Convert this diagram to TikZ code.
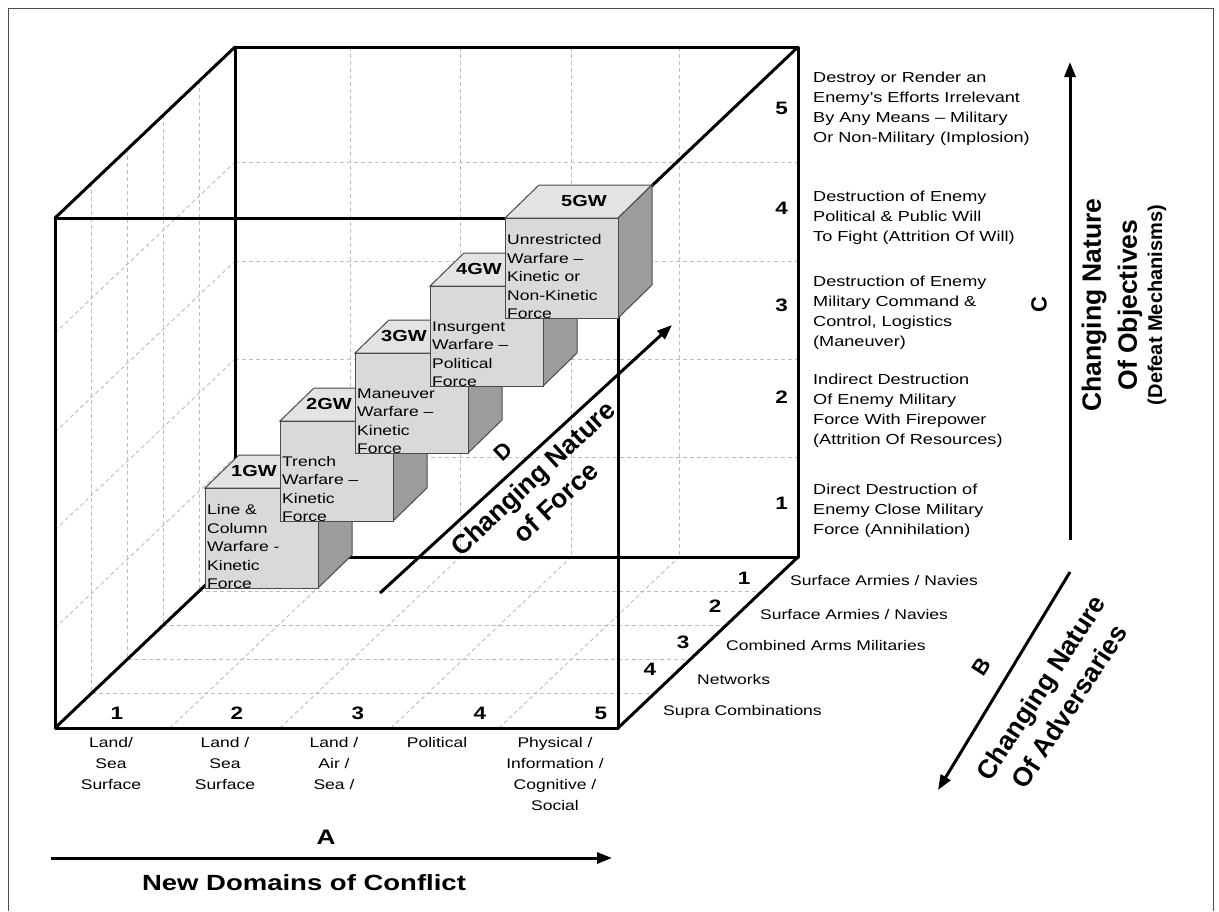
\documentclass[tikz,border=0pt]{standalone}
\usepackage{fontspec}
\setmainfont{Liberation Sans}[FakeStretch=1.25]
\newfontfamily\uprightsf{Liberation Sans}
\usetikzlibrary{arrows.meta}
\definecolor{gridgray}{HTML}{BDBDBD}
\definecolor{facefront}{HTML}{D9D9D9}
\definecolor{facetop}{HTML}{E3E3E3}
\definecolor{faceside}{HTML}{9C9C9C}
\definecolor{boxline}{HTML}{4A4A4A}

\begin{document}
\begin{tikzpicture}[x=1pt, y=-1pt,
  cubeedge/.style={line width=3pt, line cap=round, line join=round},
  dashgrid/.style={gridgray, line width=0.9pt, dash pattern=on 4pt off 3pt},
  frontface/.style={fill=facefront, draw=boxline, line width=1pt},
  topface/.style={fill=facetop, draw=boxline, line width=1pt},
  sideface/.style={fill=faceside, draw=boxline, line width=1pt},
  boxtext/.style={anchor=south west, inner sep=0pt, align=left,
                  font=\fontsize{14}{18.5}\selectfont},
  gwlabel/.style={anchor=east, inner sep=0pt, font=\fontsize{16}{16}\selectfont\bfseries},
  axisnum/.style={inner sep=0pt, font=\fontsize{18}{18}\selectfont\bfseries},
  domainlabel/.style={anchor=north, inner sep=0pt, align=center,
                 font=\fontsize{14}{21}\selectfont},
  objective/.style={anchor=west, inner sep=0pt, align=left,
                    font=\fontsize{14.5}{20}\selectfont},
  adversary/.style={anchor=west, inner sep=0pt, font=\fontsize{14}{14}\selectfont},
  axisletter/.style={inner sep=0pt, font=\uprightsf\fontsize{22}{22}\selectfont\bfseries},
  axistitle/.style={inner sep=0pt, align=center,
                    font=\uprightsf\fontsize{26.5}{34}\selectfont\bfseries},
  axisarrow/.style={line width=3pt, -{Triangle[length=15pt, width=11pt]}},
]
\useasboundingbox (0,0) rectangle (1219,911);
\draw[line width=1pt, black!70] (8,911) -- (8,8) -- (1213,8) -- (1213,911);

\coordinate (ftl) at (55,218);
\coordinate (ftr) at (618,218);
\coordinate (fbr) at (618,728);
\coordinate (fbl) at (55,728);
\coordinate (btl) at (235,47);
\coordinate (btr) at (798,47);
\coordinate (bbr) at (798,557);
\coordinate (bbl) at (235,557);

\draw[dashgrid] (350,47) -- (350,557);
\draw[dashgrid] (460,47) -- (460,557);
\draw[dashgrid] (571,47) -- (571,557);
\draw[dashgrid] (679,47) -- (679,557);
\draw[dashgrid] (235,457) -- (798,457);
\draw[dashgrid] (235,359) -- (798,359);
\draw[dashgrid] (235,261) -- (798,261);
\draw[dashgrid] (235,162) -- (798,162);
\draw[dashgrid] (91.8,183) -- (91.8,693);
\draw[dashgrid] (127.6,149) -- (127.6,659);
\draw[dashgrid] (163.4,115) -- (163.4,625);
\draw[dashgrid] (199.2,81) -- (199.2,591);
\draw[dashgrid] (55,628) -- (235,457);
\draw[dashgrid] (55,530) -- (235,359);
\draw[dashgrid] (55,432) -- (235,261);
\draw[dashgrid] (55,333) -- (235,162);
\draw[dashgrid] (91.8,693) -- (654.8,693);
\draw[dashgrid] (127.6,659) -- (690.6,659);
\draw[dashgrid] (163.4,625) -- (726.4,625);
\draw[dashgrid] (199.2,591) -- (762.2,591);
\draw[dashgrid] (170,728) -- (350,557);
\draw[dashgrid] (280,728) -- (460,557);
\draw[dashgrid] (391,728) -- (571,557);
\draw[dashgrid] (499,728) -- (679,557);

\draw[cubeedge] (btl) -- (btr) -- (bbr) -- (bbl) -- cycle;
\draw[cubeedge] (ftl) -- (btl);
\draw[cubeedge] (ftr) -- (btr);
\draw[cubeedge] (fbr) -- (bbr);
\draw[cubeedge] (fbl) -- (bbl);
\draw[cubeedge] (ftl) -- (ftr) -- (fbr) -- (fbl) -- cycle;

\filldraw[topface] (205,488) -- ++(34,-33) -- ++(113,0) -- ++(-34,33) -- cycle;
\filldraw[sideface] (318,488) -- ++(34,-33) -- ++(0,100) -- ++(-34,33) -- cycle;
\filldraw[frontface] (205,488) rectangle ++(113,100);
\node[boxtext] (gw1txt) at (207,589) {Line \&\\Column\\Warfare -\\Kinetic\\Force};
\node[gwlabel] (gw1) at (277,471) {1GW};

\filldraw[topface] (280,421) -- ++(34,-33) -- ++(113,0) -- ++(-34,33) -- cycle;
\filldraw[sideface] (393,421) -- ++(34,-33) -- ++(0,100) -- ++(-34,33) -- cycle;
\filldraw[frontface] (280,421) rectangle ++(113,100);
\node[boxtext] (gw2txt) at (282,522) {Trench\\Warfare --\\Kinetic\\Force};
\node[gwlabel] (gw2) at (352,404) {2GW};

\filldraw[topface] (355,353) -- ++(34,-33) -- ++(113,0) -- ++(-34,33) -- cycle;
\filldraw[sideface] (468,353) -- ++(34,-33) -- ++(0,100) -- ++(-34,33) -- cycle;
\filldraw[frontface] (355,353) rectangle ++(113,100);
\node[boxtext] (gw3txt) at (357,454) {Maneuver\\Warfare --\\Kinetic\\Force};
\node[gwlabel] (gw3) at (427,336) {3GW};

\filldraw[topface] (430,286) -- ++(34,-33) -- ++(113,0) -- ++(-34,33) -- cycle;
\filldraw[sideface] (543,286) -- ++(34,-33) -- ++(0,100) -- ++(-34,33) -- cycle;
\filldraw[frontface] (430,286) rectangle ++(113,100);
\node[boxtext] (gw4txt) at (432,387) {Insurgent\\Warfare --\\Political\\Force};
\node[gwlabel] (gw4) at (502,269) {4GW};

\filldraw[topface] (505,218) -- ++(34,-33) -- ++(113,0) -- ++(-34,33) -- cycle;
\filldraw[sideface] (618,218) -- ++(34,-33) -- ++(0,100) -- ++(-34,33) -- cycle;
\filldraw[frontface] (505,218) rectangle ++(113,100);
\node[boxtext] (gw5txt) at (507,319) {Unrestricted\\Warfare --\\Kinetic or\\Non-Kinetic\\Force};
\node[gwlabel] (gw5) at (607,201) {5GW};

\node[axisnum] (a1) at (117,713) {1};
\node[axisnum] (a2) at (237,713) {2};
\node[axisnum] (a3) at (358,713) {3};
\node[axisnum] (a4) at (480,713) {4};
\node[axisnum] (a5) at (601,713) {5};

\node[domainlabel] (dom1) at (111,737) {Land/\\Sea\\Surface};
\node[domainlabel] (dom2) at (225,737) {Land /\\Sea\\Surface};
\node[domainlabel] (dom3) at (334,737) {Land /\\Air /\\Sea /};
\node[domainlabel] (dom4) at (437,737) {Political};
\node[domainlabel] (dom5) at (555,737) {Physical /\\Information /\\Cognitive /\\Social};

\node[axisnum, anchor=east] (c5) at (788,108) {5};
\node[axisnum, anchor=east] (c4) at (788,208) {4};
\node[axisnum, anchor=east] (c3) at (788,305) {3};
\node[axisnum, anchor=east] (c2) at (788,397) {2};
\node[axisnum, anchor=east] (c1) at (788,503) {1};

\node[objective] (obj5) at (813,109) {Destroy or Render an\\Enemy's Efforts Irrelevant\\By Any Means -- Military\\Or Non-Military (Implosion)};
\node[objective] (obj4) at (813,218) {Destruction of Enemy\\Political \& Public Will\\To Fight (Attrition Of Will)};
\node[objective] (obj3) at (813,313) {Destruction of Enemy\\Military Command \&\\Control, Logistics\\(Maneuver)};
\node[objective] (obj2) at (813,411) {Indirect Destruction\\Of Enemy Military\\Force With Firepower\\(Attrition Of Resources)};
\node[objective] (obj1) at (813,511) {Direct Destruction of\\Enemy Close Military\\Force (Annihilation)};

\node[axisnum] (b1) at (744,578) {1};
\node[axisnum] (b2) at (715,606) {2};
\node[axisnum] (b3) at (683,642) {3};
\node[axisnum] (b4) at (650,669) {4};

\node[adversary] (adv1) at (790,580) {Surface Armies / Navies};
\node[adversary] (adv2) at (760,614) {Surface Armies / Navies};
\node[adversary] (adv3) at (726,645) {Combined Arms Militaries};
\node[adversary] (adv4) at (697,679) {Networks};
\node[adversary] (adv5) at (663,712) {Supra Combinations};

\coordinate (aStart) at (51,858);
\coordinate (aEnd) at (612,858);
\draw[axisarrow] (aStart) -- (aEnd);
\node[inner sep=0pt, font=\fontsize{21}{21}\selectfont\bfseries] (aLetter) at (326,837) {A};
\node[inner sep=0pt, font=\fontsize{22}{22}\selectfont\bfseries] (aTitle) at (304,883) {New Domains of Conflict};

\coordinate (cStart) at (1070,540);
\coordinate (cEnd) at (1070,62);
\draw[axisarrow] (cStart) -- (cEnd);
\node[axisletter, rotate=90] (cLetter) at (1039,305) {C};
\node[axistitle, rotate=90] (cTitle1) at (1094,305) {Changing Nature};
\node[axistitle, rotate=90] (cTitle2) at (1130,305) {Of Objectives};
\node[inner sep=0pt, rotate=90, font=\uprightsf\fontsize{20}{20}\selectfont\bfseries] (cTitle3) at (1157,305) {(Defeat Mechanisms)};

\coordinate (bStart) at (1070,572);
\coordinate (bEnd) at (938,790);
\draw[axisarrow] (bStart) -- (bEnd);
\node[axisletter, rotate=57] (bLetter) at (981,667) {B};
\node[axistitle, rotate=57] (bTitle) at (1055,697) {Changing Nature\\Of Adversaries};

\coordinate (dStart) at (380,593);
\coordinate (dEnd) at (672,325);
\draw[axisarrow] (dStart) -- (dEnd);
\node[axisletter, rotate=43] (dLetter) at (503,452) {D};
\node[axistitle, rotate=43, font=\uprightsf\fontsize{26.5}{33}\selectfont\bfseries] (dTitle) at (544,490) {Changing Nature\\of Force};

\end{tikzpicture}
\end{document}
